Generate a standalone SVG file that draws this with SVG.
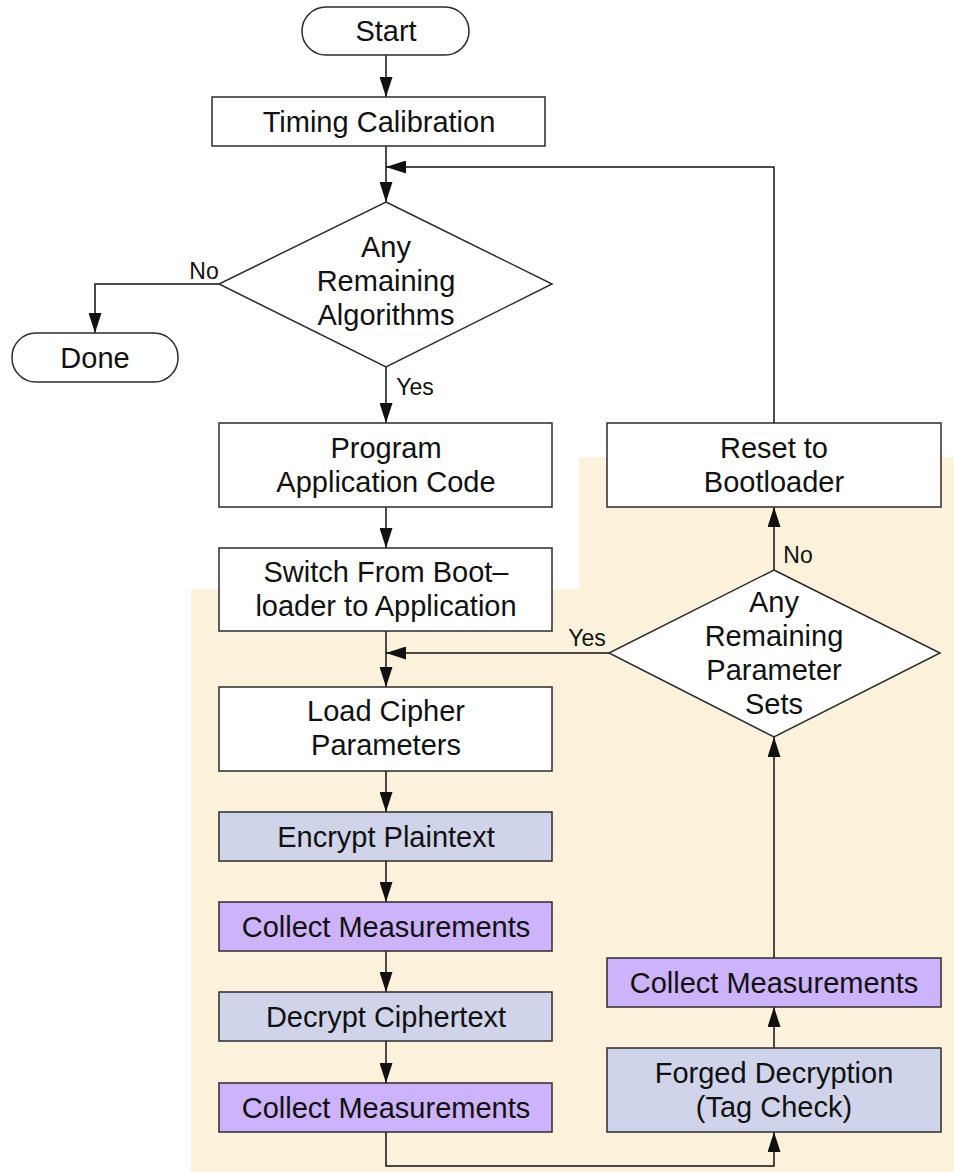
<svg xmlns="http://www.w3.org/2000/svg" width="954" height="1172" viewBox="0 0 954 1172">
<style>
.box{fill:#ffffff;stroke:#2b2b2b;stroke-width:1.5}
.op{fill:#d0d4ea;stroke:#2b2b2b;stroke-width:1.5}
.meas{fill:#ccb3fb;stroke:#2b2b2b;stroke-width:1.5}
.t{font-family:"Liberation Sans",Arial,sans-serif;font-size:29px;fill:#111;text-anchor:middle}
.l{font-family:"Liberation Sans",Arial,sans-serif;font-size:23px;fill:#111;text-anchor:middle}
.c{fill:none;stroke:#111;stroke-width:1.5}
</style>
<defs>
<marker id="ah" markerUnits="userSpaceOnUse" markerWidth="21" markerHeight="13" refX="20" refY="6.5" orient="auto">
<path d="M0,0 L20,6.5 L0,13 Z" fill="#111"/>
</marker>
</defs>
<rect width="954" height="1172" fill="#ffffff"/>
<polygon id="background" points="191,589 579,589 579,457 954,457 954,1172 191,1172" fill="#fcf2dc"/>
<g id="connectors">
<line class="c" x1="386" y1="55" x2="386" y2="97" marker-end="url(#ah)"/>
<line class="c" x1="386" y1="146" x2="386" y2="202" marker-end="url(#ah)"/>
<polyline class="c" points="774,423 774,167 386,167" marker-end="url(#ah)"/>
<polyline class="c" points="219,284 95,284 95,333" marker-end="url(#ah)"/>
<line class="c" x1="386" y1="367" x2="386" y2="423" marker-end="url(#ah)"/>
<line class="c" x1="386" y1="507" x2="386" y2="548" marker-end="url(#ah)"/>
<line class="c" x1="386" y1="631" x2="386" y2="687" marker-end="url(#ah)"/>
<line class="c" x1="609" y1="653" x2="386" y2="653" marker-end="url(#ah)"/>
<line class="c" x1="774" y1="570" x2="774" y2="507" marker-end="url(#ah)"/>
<line class="c" x1="386" y1="771" x2="386" y2="812" marker-end="url(#ah)"/>
<line class="c" x1="386" y1="861" x2="386" y2="902" marker-end="url(#ah)"/>
<line class="c" x1="386" y1="951" x2="386" y2="992" marker-end="url(#ah)"/>
<line class="c" x1="386" y1="1041" x2="386" y2="1083" marker-end="url(#ah)"/>
<polyline class="c" points="386,1132 386,1166 774,1166 774,1132" marker-end="url(#ah)"/>
<line class="c" x1="774" y1="1048" x2="774" y2="1007" marker-end="url(#ah)"/>
<line class="c" x1="774" y1="958" x2="774" y2="737" marker-end="url(#ah)"/>
<text class="l" x="204" y="279">No</text>
<text class="l" x="415" y="395">Yes</text>
<text class="l" x="587" y="646">Yes</text>
<text class="l" x="798" y="563">No</text>
</g>
<g id="start"><rect class="box" x="302" y="7" width="167" height="48" rx="24"/><text class="t" x="386" y="41">Start</text></g>
<g id="timing"><rect class="box" x="212" y="97" width="333" height="49"/><text class="t" x="379" y="132">Timing Calibration</text></g>
<g id="anyalg"><polygon class="box" points="386,202 552,284 386,367 219,284"/><text class="t" x="386" y="257">Any</text><text class="t" x="386" y="291">Remaining</text><text class="t" x="386" y="325">Algorithms</text></g>
<g id="done"><rect class="box" x="12" y="333" width="166" height="49" rx="24"/><text class="t" x="95" y="368">Done</text></g>
<g id="program"><rect class="box" x="219" y="423" width="333" height="84"/><text class="t" x="386" y="458">Program</text><text class="t" x="386" y="492">Application Code</text></g>
<g id="switch"><rect class="box" x="219" y="548" width="333" height="83"/><text class="t" x="386" y="582">Switch From Boot–</text><text class="t" x="386" y="616">loader to Application</text></g>
<g id="load"><rect class="box" x="219" y="687" width="333" height="84"/><text class="t" x="386" y="721">Load Cipher</text><text class="t" x="386" y="755">Parameters</text></g>
<g id="encrypt"><rect class="op" x="219" y="812" width="333" height="49"/><text class="t" x="386" y="847">Encrypt Plaintext</text></g>
<g id="collect1"><rect class="meas" x="219" y="902" width="333" height="49"/><text class="t" x="386" y="937">Collect Measurements</text></g>
<g id="decrypt"><rect class="op" x="219" y="992" width="333" height="49"/><text class="t" x="386" y="1027">Decrypt Ciphertext</text></g>
<g id="collect2"><rect class="meas" x="219" y="1083" width="333" height="49"/><text class="t" x="386" y="1118">Collect Measurements</text></g>
<g id="reset"><rect class="box" x="607" y="423" width="334" height="84"/><text class="t" x="774" y="458">Reset to</text><text class="t" x="774" y="492">Bootloader</text></g>
<g id="anyparam"><polygon class="box" points="774,570 940,653 774,737 609,653"/><text class="t" x="774" y="612">Any</text><text class="t" x="774" y="646">Remaining</text><text class="t" x="774" y="680">Parameter</text><text class="t" x="774" y="714">Sets</text></g>
<g id="collect3"><rect class="meas" x="607" y="958" width="334" height="49"/><text class="t" x="774" y="993">Collect Measurements</text></g>
<g id="forged"><rect class="op" x="607" y="1048" width="334" height="84"/><text class="t" x="774" y="1083">Forged Decryption</text><text class="t" x="774" y="1117">(Tag Check)</text></g>
</svg>
